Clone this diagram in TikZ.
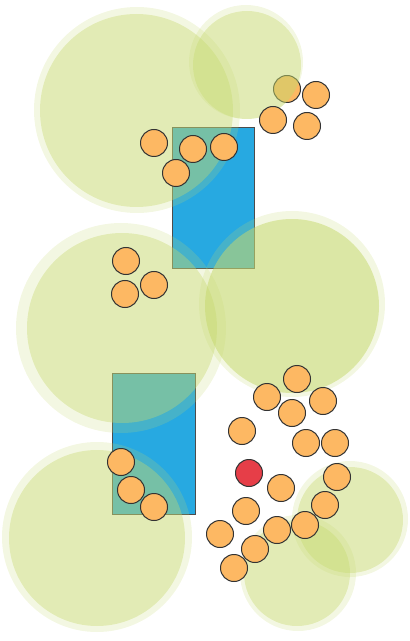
\documentclass[tikz,border=0pt]{standalone}
\usetikzlibrary{positioning}
\definecolor{leafgreen}{RGB}{197,216,109}
\definecolor{poolblue}{RGB}{39,169,225}
\definecolor{guestorange}{RGB}{253,184,99}
\definecolor{hostred}{RGB}{230,62,72}
\tikzset{
  room/.style={draw=black!70,fill=poolblue,line width=0.5pt,inner sep=0pt},
  halo/.style={circle,fill=leafgreen,fill opacity=0.2,inner sep=0pt},
  crown/.style={circle,fill=leafgreen,fill opacity=0.38,inner sep=0pt},
  guest/.style={circle,draw=black!80,fill=guestorange,line width=0.5pt,minimum size=13.5pt,inner sep=0pt},
  hostdot/.style={guest,fill=hostred}
}
\begin{document}
\begin{tikzpicture}[x=0.5pt,y=-0.5pt]
  \useasboundingbox (0,0) rectangle (409,641);
  % Pools
  \node[room, minimum width=41pt, minimum height=70.5pt] (pool1) at (213,198.5) {};
  \node[room, minimum width=41.5pt, minimum height=70.5pt] (pool2) at (153.5,443.5) {};

  % Guest hidden under the small tree
  \node[guest] (g0) at (287,89) {};

  % Trees (halo + crown)
  \node[halo, minimum size=103pt] (h1) at (137,110) {};
  \node[crown, minimum size=96.5pt] (t1) at (136.5,110.5) {};
  \node[halo, minimum size=57pt] (h2) at (246,62) {};
  \node[crown, minimum size=54pt] (t2) at (247,65) {};
  \node[halo, minimum size=105pt] (h3) at (121,328) {};
  \node[crown, minimum size=95pt] (t3) at (122,328) {};
  \node[halo, minimum size=93pt] (h4) at (292,304) {};
  \node[crown, minimum size=87pt, fill opacity=0.52] (t4) at (292,306) {};
  \node[halo, minimum size=95pt] (h5) at (97,537) {};
  \node[crown, minimum size=88pt] (t5) at (97,538) {};
  \node[halo, minimum size=58pt] (h6) at (350,519) {};
  \node[crown, minimum size=53pt] (t6) at (350,520) {};
  \node[halo, minimum size=58pt] (h7) at (298,573) {};
  \node[crown, minimum size=53pt] (t7) at (297,573) {};

  % Guests
  \foreach \x/\y [count=\i] in {316/95,273/120,307/126,
      154/143,193/149,224/147,176/173,
      126/261,154/285,125/294,
      297/379,267/397,323/401,292/413,242/431,306/443,335/443,
      337/477,281/488,121/462,131/490,154/507,325/505,246/511,
      305/525,277/530,220/534,255/549,234/568}
    \node[guest] (g\i) at (\x,\y) {};

  % Host
  \node[hostdot] (host) at (249,473) {};
\end{tikzpicture}
\end{document}
